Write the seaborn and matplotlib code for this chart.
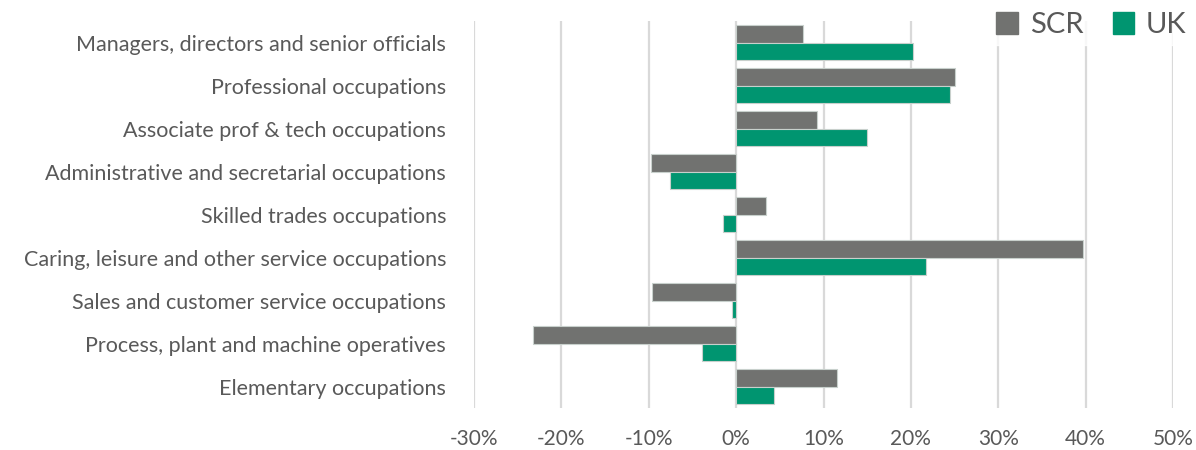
import matplotlib
matplotlib.use("Agg")
import matplotlib.pyplot as plt
import seaborn as sns
import pandas as pd
from matplotlib.ticker import FuncFormatter

occupations = [
    "Managers, directors and senior officials",
    "Professional occupations",
    "Associate prof & tech occupations",
    "Administrative and secretarial occupations",
    "Skilled trades occupations",
    "Caring, leisure and other service occupations",
    "Sales and customer service occupations",
    "Process, plant and machine operatives",
    "Elementary occupations",
]
scr_change = [7.6, 25.1, 9.3, -9.7, 3.4, 39.7, -9.6, -23.3, 11.5]
uk_change = [20.2, 24.5, 15.0, -7.6, -1.5, 21.7, -0.5, -3.9, 4.3]
series_names = ["SCR", "UK"]
x_ticks = [-30, -20, -10, 0, 10, 20, 30, 40, 50]

df = pd.DataFrame({
    "Occupation": occupations * 2,
    "Change": scr_change + uk_change,
    "Area": [series_names[0]] * len(occupations) + [series_names[1]] * len(occupations),
})

sns.set_style("white")
plt.rcParams["font.family"] = ["Lato", "DejaVu Sans"]
text_color = "#595959"

fig = plt.figure(figsize=(11.96, 4.5), dpi=100)
ax = fig.add_axes([0.3963, 0.0933, 0.5845, 0.86])

sns.barplot(
    data=df, y="Occupation", x="Change", hue="Area", order=occupations,
    hue_order=series_names, palette=["#717270", "#009570"], saturation=1,
    orient="h", width=0.8, edgecolor="#c8d0cc", linewidth=0.8, ax=ax,
    zorder=3, legend=False,
)

ax.set_xlim(-30, 50)
ax.set_xticks(x_ticks)
ax.xaxis.set_major_formatter(FuncFormatter(lambda v, _: f"{v:.0f}%"))
ax.grid(axis="x", color="#d9d9d9", linewidth=1.6, zorder=0)
ax.set_axisbelow(True)
for s in ax.spines.values():
    s.set_visible(False)
ax.set_xlabel("")
ax.set_ylabel("")
ax.tick_params(axis="both", length=0, colors=text_color)
ax.tick_params(axis="y", labelsize=15.5, pad=20)
ax.tick_params(axis="x", labelsize=15, pad=15)

handles = [plt.Rectangle((0, 0), 1, 1, color=c) for c in ["#717270", "#009570"]]
leg = fig.legend(
    handles, series_names, loc="center right",
    bbox_to_anchor=(1194 / 1196, 1 - 25 / 450), ncol=2, frameon=True,
    fontsize=21, handlelength=0.75, handleheight=0.75, handletextpad=0.4,
    columnspacing=1.0, borderaxespad=0, borderpad=0.25,
)
leg.get_frame().set_facecolor("white")
leg.get_frame().set_edgecolor("white")
leg.get_frame().set_boxstyle("square", pad=0)
leg.set_zorder(5)
for t in leg.get_texts():
    t.set_color(text_color)

fig.savefig("out.png", dpi=100, facecolor="white")
